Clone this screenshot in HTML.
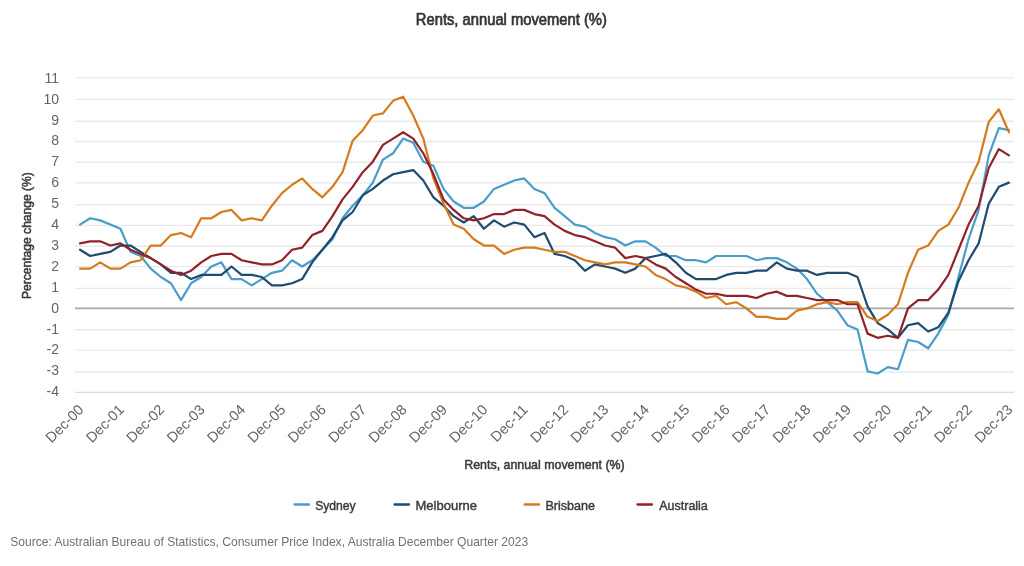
<!DOCTYPE html>
<html><head><meta charset="utf-8"><title>Rents, annual movement (%)</title>
<style>
html,body{margin:0;padding:0;background:#fff;}
body{width:1024px;height:566px;overflow:hidden;position:relative;font-family:'Liberation Sans', Arial, sans-serif;}
svg{position:absolute;left:0;top:0;display:block;filter:blur(0.35px);}
.yl{font-size:14px;fill:#646464;font-family:'Liberation Sans', Arial, sans-serif;}
.xl{font-size:14.5px;fill:#646464;font-family:'Liberation Sans', Arial, sans-serif;}
.t{font-family:'Liberation Sans', Arial, sans-serif;}
</style></head>
<body>
<svg width="1024" height="566" viewBox="0 0 1024 566">
<rect width="1024" height="566" fill="#fff"/>
<g fill="#3B3B3B" stroke="#3B3B3B" stroke-width="0.45" font-family="'Liberation Sans', Arial, sans-serif">
<text x="511.35" y="24.8" text-anchor="middle" font-size="15.8" stroke-width="0.7" fill="#353535" stroke="#353535" textLength="191" lengthAdjust="spacingAndGlyphs">Rents, annual movement (%)</text>
<text transform="translate(30.8,235.6) rotate(-90)" text-anchor="middle" font-size="13.5" stroke-width="0.55" textLength="127" lengthAdjust="spacingAndGlyphs">Percentage change (%)</text>
</g>
<line x1="75.0" y1="392.40" x2="1014.0" y2="392.40" stroke="#D6DCE5" stroke-width="1.4"/>
<line x1="75.0" y1="372.00" x2="1014.0" y2="372.00" stroke="#E9E9E9" stroke-width="1.4"/>
<line x1="75.0" y1="350.10" x2="1014.0" y2="350.10" stroke="#E9E9E9" stroke-width="1.4"/>
<line x1="75.0" y1="329.70" x2="1014.0" y2="329.70" stroke="#E9E9E9" stroke-width="1.4"/>
<line x1="75.0" y1="288.40" x2="1014.0" y2="288.40" stroke="#E9E9E9" stroke-width="1.4"/>
<line x1="75.0" y1="266.60" x2="1014.0" y2="266.60" stroke="#E9E9E9" stroke-width="1.4"/>
<line x1="75.0" y1="246.20" x2="1014.0" y2="246.20" stroke="#E9E9E9" stroke-width="1.4"/>
<line x1="75.0" y1="225.40" x2="1014.0" y2="225.40" stroke="#E9E9E9" stroke-width="1.4"/>
<line x1="75.0" y1="204.80" x2="1014.0" y2="204.80" stroke="#E9E9E9" stroke-width="1.4"/>
<line x1="75.0" y1="182.90" x2="1014.0" y2="182.90" stroke="#E9E9E9" stroke-width="1.4"/>
<line x1="75.0" y1="162.30" x2="1014.0" y2="162.30" stroke="#E9E9E9" stroke-width="1.4"/>
<line x1="75.0" y1="141.50" x2="1014.0" y2="141.50" stroke="#E9E9E9" stroke-width="1.4"/>
<line x1="75.0" y1="121.30" x2="1014.0" y2="121.30" stroke="#E9E9E9" stroke-width="1.4"/>
<line x1="75.0" y1="99.40" x2="1014.0" y2="99.40" stroke="#E9E9E9" stroke-width="1.4"/>
<line x1="75.0" y1="77.90" x2="1014.0" y2="77.90" stroke="#E9E9E9" stroke-width="1.4"/>
<text x="59" y="396.20" text-anchor="end" class="yl">-4</text>
<text x="59" y="375.30" text-anchor="end" class="yl">-3</text>
<text x="59" y="354.40" text-anchor="end" class="yl">-2</text>
<text x="59" y="333.50" text-anchor="end" class="yl">-1</text>
<text x="59" y="312.60" text-anchor="end" class="yl">0</text>
<text x="59" y="291.70" text-anchor="end" class="yl">1</text>
<text x="59" y="270.80" text-anchor="end" class="yl">2</text>
<text x="59" y="249.90" text-anchor="end" class="yl">3</text>
<text x="59" y="229.00" text-anchor="end" class="yl">4</text>
<text x="59" y="208.10" text-anchor="end" class="yl">5</text>
<text x="59" y="187.20" text-anchor="end" class="yl">6</text>
<text x="59" y="166.30" text-anchor="end" class="yl">7</text>
<text x="59" y="145.40" text-anchor="end" class="yl">8</text>
<text x="59" y="124.50" text-anchor="end" class="yl">9</text>
<text x="59" y="103.60" text-anchor="end" class="yl">10</text>
<text x="59" y="82.70" text-anchor="end" class="yl">11</text>
<line x1="75.0" y1="308.4" x2="1014.0" y2="308.4" stroke="#A8A8A8" stroke-width="1.8"/>
<polyline points="80.05,224.57 90.15,218.28 100.24,220.38 110.34,224.57 120.44,228.76 130.53,251.83 140.63,256.02 150.73,268.61 160.82,277.00 170.92,283.29 181.02,300.06 191.11,283.29 201.21,277.00 211.31,266.51 221.40,262.32 231.50,279.09 241.60,279.09 251.69,285.38 261.79,279.09 271.89,272.80 281.98,270.70 292.08,260.22 302.18,266.51 312.27,260.22 322.37,249.73 332.47,239.25 342.56,218.28 352.66,205.70 362.76,195.21 372.85,182.63 382.95,159.56 393.05,153.27 403.15,138.59 413.24,142.79 423.34,161.66 433.44,165.85 443.53,188.92 453.63,201.50 463.73,207.79 473.82,207.79 483.92,201.50 494.02,188.92 504.11,184.73 514.21,180.53 524.31,178.44 534.40,188.92 544.50,193.12 554.60,207.79 564.69,216.18 574.79,224.57 584.89,226.67 594.98,232.96 605.08,237.15 615.18,239.25 625.27,245.54 635.37,241.35 645.47,241.35 655.56,247.64 665.66,256.02 675.76,256.02 685.85,260.22 695.95,260.22 706.05,262.32 716.15,256.02 726.24,256.02 736.34,256.02 746.44,256.02 756.53,260.22 766.63,258.12 776.73,258.12 786.82,262.32 796.92,268.61 807.02,279.09 817.11,293.77 827.21,302.16 837.31,310.55 847.40,325.23 857.50,329.42 867.60,371.36 877.69,373.46 887.79,367.17 897.89,369.26 907.98,339.90 918.08,342.00 928.18,348.29 938.27,333.61 948.37,314.74 958.47,277.00 968.56,239.25 978.66,209.89 988.76,155.37 998.85,128.11 1008.95,130.20" fill="none" stroke="#4A9CCB" stroke-width="2.2" stroke-linejoin="round" stroke-linecap="round"/>
<polyline points="80.05,249.73 90.15,256.02 100.24,253.93 110.34,251.83 120.44,245.54 130.53,245.54 140.63,251.83 150.73,258.12 160.82,264.41 170.92,272.80 181.02,272.80 191.11,279.09 201.21,274.90 211.31,274.90 221.40,274.90 231.50,266.51 241.60,274.90 251.69,274.90 261.79,277.00 271.89,285.38 281.98,285.38 292.08,283.29 302.18,279.09 312.27,262.32 322.37,249.73 332.47,237.15 342.56,220.38 352.66,211.99 362.76,195.21 372.85,188.92 382.95,180.53 393.05,174.24 403.15,172.14 413.24,170.05 423.34,180.53 433.44,197.31 443.53,205.70 453.63,216.18 463.73,222.47 473.82,216.18 483.92,228.76 494.02,220.38 504.11,226.67 514.21,222.47 524.31,224.57 534.40,237.15 544.50,232.96 554.60,253.93 564.69,256.02 574.79,260.22 584.89,270.70 594.98,264.41 605.08,266.51 615.18,268.61 625.27,272.80 635.37,268.61 645.47,258.12 655.56,256.02 665.66,253.93 675.76,262.32 685.85,272.80 695.95,279.09 706.05,279.09 716.15,279.09 726.24,274.90 736.34,272.80 746.44,272.80 756.53,270.70 766.63,270.70 776.73,262.32 786.82,268.61 796.92,270.70 807.02,270.70 817.11,274.90 827.21,272.80 837.31,272.80 847.40,272.80 857.50,277.00 867.60,306.35 877.69,323.13 887.79,329.42 897.89,337.81 907.98,325.23 918.08,323.13 928.18,331.52 938.27,327.32 948.37,312.64 958.47,281.19 968.56,260.22 978.66,243.44 988.76,203.60 998.85,186.82 1008.95,182.63" fill="none" stroke="#1E4B6E" stroke-width="2.2" stroke-linejoin="round" stroke-linecap="round"/>
<polyline points="80.05,268.61 90.15,268.61 100.24,262.32 110.34,268.61 120.44,268.61 130.53,262.32 140.63,260.22 150.73,245.54 160.82,245.54 170.92,235.06 181.02,232.96 191.11,237.15 201.21,218.28 211.31,218.28 221.40,211.99 231.50,209.89 241.60,220.38 251.69,218.28 261.79,220.38 271.89,205.70 281.98,193.12 292.08,184.73 302.18,178.44 312.27,188.92 322.37,197.31 332.47,186.82 342.56,172.14 352.66,140.69 362.76,130.20 372.85,115.53 382.95,113.43 393.05,100.85 403.15,96.65 413.24,115.53 423.34,138.59 433.44,178.44 443.53,203.60 453.63,224.57 463.73,228.76 473.82,239.25 483.92,245.54 494.02,245.54 504.11,253.93 514.21,249.73 524.31,247.64 534.40,247.64 544.50,249.73 554.60,251.83 564.69,251.83 574.79,256.02 584.89,260.22 594.98,262.32 605.08,264.41 615.18,262.32 625.27,262.32 635.37,264.41 645.47,266.51 655.56,274.90 665.66,279.09 675.76,285.38 685.85,287.48 695.95,291.67 706.05,297.96 716.15,295.87 726.24,304.26 736.34,302.16 746.44,308.45 756.53,316.84 766.63,316.84 776.73,318.94 786.82,318.94 796.92,310.55 807.02,308.45 817.11,304.26 827.21,302.16 837.31,304.26 847.40,302.16 857.50,302.16 867.60,316.84 877.69,321.03 887.79,314.74 897.89,304.26 907.98,272.80 918.08,249.73 928.18,245.54 938.27,230.86 948.37,224.57 958.47,207.79 968.56,182.63 978.66,161.66 988.76,121.82 998.85,109.24 1008.95,132.30" fill="none" stroke="#D67A1E" stroke-width="2.2" stroke-linejoin="round" stroke-linecap="round"/>
<polyline points="80.05,243.44 90.15,241.35 100.24,241.35 110.34,245.54 120.44,243.44 130.53,249.73 140.63,253.93 150.73,258.12 160.82,264.41 170.92,270.70 181.02,274.90 191.11,270.70 201.21,262.32 211.31,256.02 221.40,253.93 231.50,253.93 241.60,260.22 251.69,262.32 261.79,264.41 271.89,264.41 281.98,260.22 292.08,249.73 302.18,247.64 312.27,235.06 322.37,230.86 332.47,216.18 342.56,199.41 352.66,186.82 362.76,172.14 372.85,161.66 382.95,144.88 393.05,138.59 403.15,132.30 413.24,138.59 423.34,153.27 433.44,174.24 443.53,199.41 453.63,209.89 463.73,218.28 473.82,220.38 483.92,218.28 494.02,214.08 504.11,214.08 514.21,209.89 524.31,209.89 534.40,214.08 544.50,216.18 554.60,224.57 564.69,230.86 574.79,235.06 584.89,237.15 594.98,241.35 605.08,245.54 615.18,247.64 625.27,258.12 635.37,256.02 645.47,258.12 655.56,264.41 665.66,268.61 675.76,277.00 685.85,283.29 695.95,289.58 706.05,293.77 716.15,293.77 726.24,295.87 736.34,295.87 746.44,295.87 756.53,297.96 766.63,293.77 776.73,291.67 786.82,295.87 796.92,295.87 807.02,297.96 817.11,300.06 827.21,300.06 837.31,300.06 847.40,304.26 857.50,304.26 867.60,333.61 877.69,337.81 887.79,335.71 897.89,337.81 907.98,308.45 918.08,300.06 928.18,300.06 938.27,289.58 948.37,274.90 958.47,249.73 968.56,224.57 978.66,205.70 988.76,167.95 998.85,149.08 1008.95,155.37" fill="none" stroke="#90222A" stroke-width="2.2" stroke-linejoin="round" stroke-linecap="round"/>
<text transform="translate(84.55,410.5) rotate(-45)" text-anchor="end" class="xl">Dec-00</text>
<text transform="translate(124.94,410.5) rotate(-45)" text-anchor="end" class="xl">Dec-01</text>
<text transform="translate(165.32,410.5) rotate(-45)" text-anchor="end" class="xl">Dec-02</text>
<text transform="translate(205.71,410.5) rotate(-45)" text-anchor="end" class="xl">Dec-03</text>
<text transform="translate(246.10,410.5) rotate(-45)" text-anchor="end" class="xl">Dec-04</text>
<text transform="translate(286.48,410.5) rotate(-45)" text-anchor="end" class="xl">Dec-05</text>
<text transform="translate(326.87,410.5) rotate(-45)" text-anchor="end" class="xl">Dec-06</text>
<text transform="translate(367.26,410.5) rotate(-45)" text-anchor="end" class="xl">Dec-07</text>
<text transform="translate(407.65,410.5) rotate(-45)" text-anchor="end" class="xl">Dec-08</text>
<text transform="translate(448.03,410.5) rotate(-45)" text-anchor="end" class="xl">Dec-09</text>
<text transform="translate(488.42,410.5) rotate(-45)" text-anchor="end" class="xl">Dec-10</text>
<text transform="translate(528.81,410.5) rotate(-45)" text-anchor="end" class="xl">Dec-11</text>
<text transform="translate(569.19,410.5) rotate(-45)" text-anchor="end" class="xl">Dec-12</text>
<text transform="translate(609.58,410.5) rotate(-45)" text-anchor="end" class="xl">Dec-13</text>
<text transform="translate(649.97,410.5) rotate(-45)" text-anchor="end" class="xl">Dec-14</text>
<text transform="translate(690.35,410.5) rotate(-45)" text-anchor="end" class="xl">Dec-15</text>
<text transform="translate(730.74,410.5) rotate(-45)" text-anchor="end" class="xl">Dec-16</text>
<text transform="translate(771.13,410.5) rotate(-45)" text-anchor="end" class="xl">Dec-17</text>
<text transform="translate(811.52,410.5) rotate(-45)" text-anchor="end" class="xl">Dec-18</text>
<text transform="translate(851.90,410.5) rotate(-45)" text-anchor="end" class="xl">Dec-19</text>
<text transform="translate(892.29,410.5) rotate(-45)" text-anchor="end" class="xl">Dec-20</text>
<text transform="translate(932.68,410.5) rotate(-45)" text-anchor="end" class="xl">Dec-21</text>
<text transform="translate(973.06,410.5) rotate(-45)" text-anchor="end" class="xl">Dec-22</text>
<text transform="translate(1013.45,410.5) rotate(-45)" text-anchor="end" class="xl">Dec-23</text>
<g fill="#3B3B3B" stroke="#3B3B3B" stroke-width="0.45" font-family="'Liberation Sans', Arial, sans-serif" font-size="13.5">
<text x="544.5" y="469.3" text-anchor="middle" stroke-width="0.55" textLength="160.5" lengthAdjust="spacingAndGlyphs">Rents, annual movement (%)</text>
<line x1="294.5" y1="504.5" x2="309" y2="504.5" stroke="#4A9CCB" stroke-width="2.3" stroke-linecap="round"/>
<text x="315.2" y="509.6" textLength="40.5" lengthAdjust="spacingAndGlyphs">Sydney</text>
<line x1="394.5" y1="504.5" x2="409" y2="504.5" stroke="#1E4B6E" stroke-width="2.3" stroke-linecap="round"/>
<text x="415.5" y="509.6" textLength="61.5" lengthAdjust="spacingAndGlyphs">Melbourne</text>
<line x1="524.5" y1="504.5" x2="539" y2="504.5" stroke="#D67A1E" stroke-width="2.3" stroke-linecap="round"/>
<text x="545.4" y="509.6" textLength="49.5" lengthAdjust="spacingAndGlyphs">Brisbane</text>
<line x1="637.5" y1="504.5" x2="652" y2="504.5" stroke="#90222A" stroke-width="2.3" stroke-linecap="round"/>
<text x="659.3" y="509.6" textLength="48.5" lengthAdjust="spacingAndGlyphs">Australia</text>
</g>
<text x="10.2" y="546.2" font-family="'Liberation Sans', Arial, sans-serif" font-size="13" fill="#707070" textLength="518" lengthAdjust="spacingAndGlyphs">Source: Australian Bureau of Statistics, Consumer Price Index, Australia December Quarter 2023</text>
</svg>
</body></html>
